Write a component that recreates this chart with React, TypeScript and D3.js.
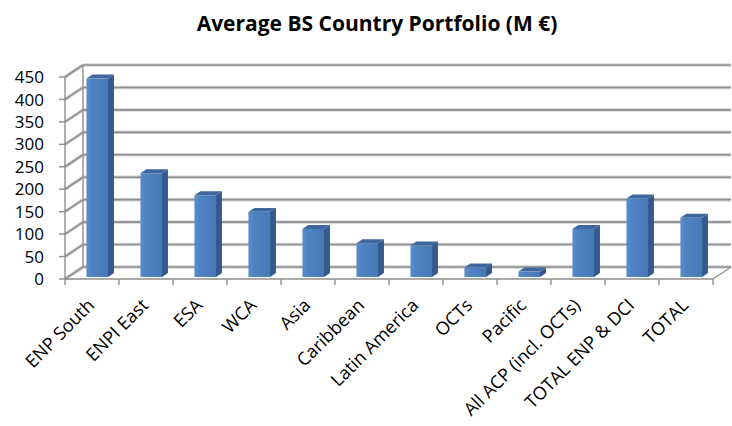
import * as d3 from 'd3';

const categories = [
  'ENP South',
  'ENPI East',
  'ESA',
  'WCA',
  'Asia',
  'Caribbean',
  'Latin America',
  'OCTs',
  'Pacific',
  'All ACP (incl. OCTs)',
  'TOTAL ENP & DCI',
  'TOTAL',
];
const portfolio = [442, 231, 182, 145, 107, 75, 70, 21, 12, 107, 175, 132];
const yTicks = [0, 50, 100, 150, 200, 250, 300, 350, 400, 450];

const width = 732;
const height = 426;
const DX = 18; // depth of the back wall
const DY = 12;
const BAR_FRONT = 0.17;
const BAR_BACK = 0.5;

const App = () => {
  const x = d3.scaleBand<string>().domain(categories).range([65, 713]).padding(0);
  const y = d3.scaleLinear().domain([0, 450]).range([279, 77]);
  const bw = x.bandwidth();
  const barW = bw * 0.4;
  const barOff = bw * 0.34;

  const p = (px: number, v: number, d: number) => [px + d * DX, y(v) - d * DY];
  const poly = (pts: number[][]) => pts.map((q) => q.join(',')).join(' ');

  const x0 = x.range()[0];
  const x1 = x.range()[1];
  const gridStyle = { stroke: '#8e8e8e', strokeWidth: 1.6 };
  const haloStyle = { stroke: '#d4d4d4', strokeWidth: 3.5 };

  return (
    <svg width={width} height={height} style={{ position: 'absolute', left: 0, top: 0 }}>
      <defs>
        <linearGradient id='front' x1='0' x2='1' y1='0' y2='0'>
          <stop offset='0' stopColor='#5b8dcc' />
          <stop offset='0.25' stopColor='#4f82c2' />
          <stop offset='1' stopColor='#4679b8' />
        </linearGradient>
      </defs>
      <rect width={width} height={height} fill='#fff' />
      <text
        x={377}
        y={31}
        textAnchor='middle'
        fontFamily='Open Sans'
        fontWeight='bold'
        fontSize={21}
        fill='#000'
      >
        Average BS Country Portfolio (M €)
      </text>

      {/* back wall gridlines */}
      {yTicks.map((t) => {
        const a = p(x0, t, 1);
        const b = p(x1, t, 1);
        const f = p(x0, t, 0);
        return (
          <g key={t}>
            <line x1={a[0]} y1={a[1]} x2={b[0]} y2={b[1]} {...haloStyle} />
            <line x1={a[0]} y1={a[1]} x2={b[0]} y2={b[1]} {...gridStyle} />
            <line x1={f[0]} y1={f[1]} x2={a[0]} y2={a[1]} {...haloStyle} />
            <line x1={f[0]} y1={f[1]} x2={a[0]} y2={a[1]} {...gridStyle} />
          </g>
        );
      })}
      {/* wall edges */}
      {[0, 1].map((d) => {
        const a = p(x0, 0, d);
        const b = p(x0, 450, d);
        return <line key={d} x1={a[0]} y1={a[1]} x2={b[0]} y2={b[1]} stroke='#8e8e8e' strokeWidth={1.4} />;
      })}
      {/* floor */}
      <line x1={x0} y1={y(0)} x2={x1} y2={y(0)} stroke='#8e8e8e' strokeWidth={1.6} />
      <line x1={x1} y1={y(0)} x2={x1 + DX} y2={y(0) - DY} stroke='#8e8e8e' strokeWidth={1.4} />
      {/* category ticks */}
      {[...categories.map((c) => x(c) as number), x1].map((tx, i) => (
        <line key={i} x1={tx} y1={y(0)} x2={tx} y2={y(0) + 6} stroke='#8e8e8e' strokeWidth={1.4} />
      ))}
      {/* value ticks and labels */}
      {yTicks.map((t) => (
        <g key={t}>
          <line x1={x0 - 6} y1={y(t)} x2={x0} y2={y(t)} stroke='#8e8e8e' strokeWidth={1.4} />
          <text
            x={44}
            y={y(t)}
            dy='0.36em'
            textAnchor='end'
            fontFamily='Open Sans'
            fontSize={17}
            fill='#000'
          >
            {t}
          </text>
        </g>
      ))}

      {/* bars */}
      {categories.map((c, i) => {
        const v = portfolio[i];
        const l = (x(c) as number) + barOff;
        const r = l + barW;
        const fTL = p(l, v, BAR_FRONT);
        const fTR = p(r, v, BAR_FRONT);
        const fBR = p(r, 0, BAR_FRONT);
        const bTL = p(l, v, BAR_BACK);
        const bTR = p(r, v, BAR_BACK);
        const bBR = p(r, 0, BAR_BACK);
        return (
          <g key={c}>
            <polygon points={poly([fTR, bTR, bBR, fBR])} fill='#34598a' />
            <polygon points={poly([fTL, bTL, bTR, fTR])} fill='#3e679d' />
            <rect
              x={fTL[0]}
              y={fTL[1]}
              width={barW}
              height={fBR[1] - fTL[1]}
              fill='url(#front)'
            />
          </g>
        );
      })}

      {/* category labels */}
      {categories.map((c) => {
        const cx = (x(c) as number) + bw / 2 - 1;
        const cy = y(0) + 23;
        return (
          <text
            key={c}
            transform={`translate(${cx},${cy}) rotate(-45)`}
            textAnchor='end'
            dy='0.35em'
            fontFamily='Open Sans'
            fontSize={18}
            fill='#000'
          >
            {c}
          </text>
        );
      })}
    </svg>
  );
};

export default App;
